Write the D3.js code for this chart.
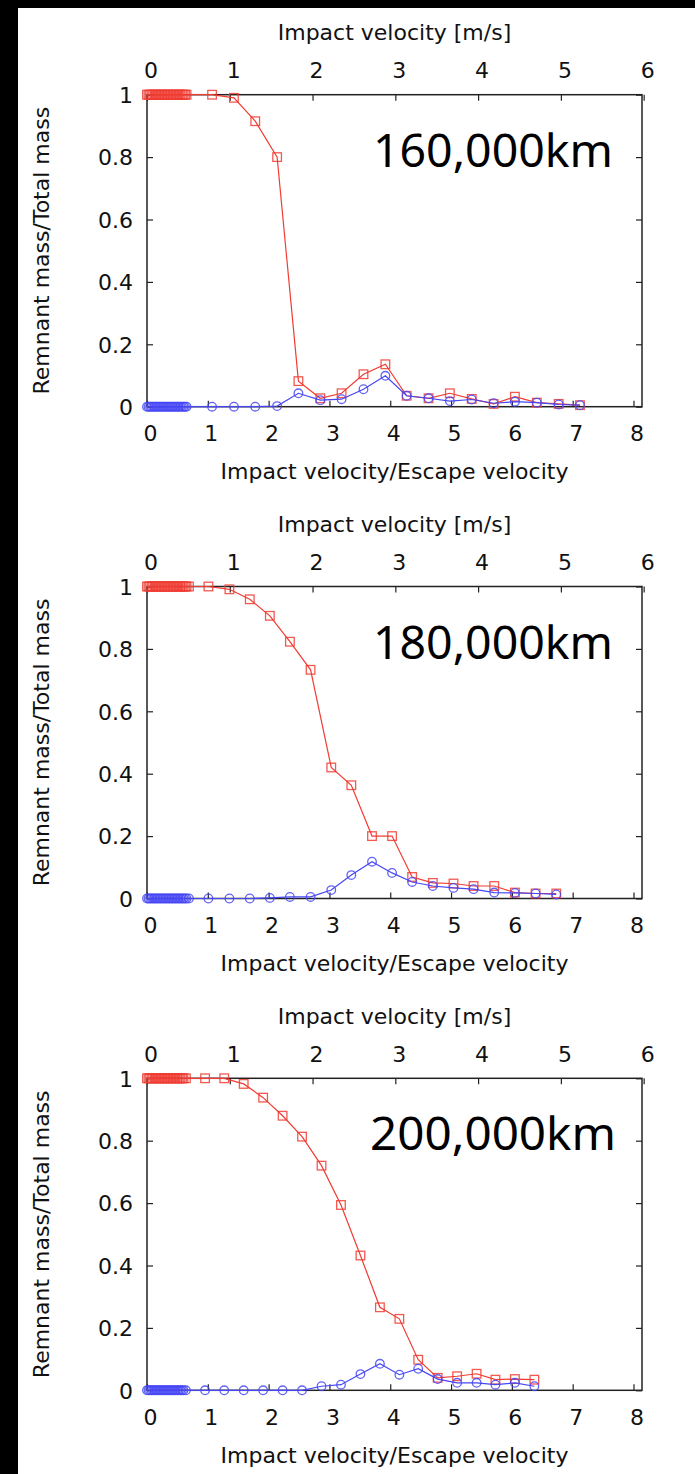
<!DOCTYPE html>
<html>
<head>
<meta charset="utf-8">
<title>Remnant mass vs impact velocity</title>
<script src="https://cdn.jsdelivr.net/npm/d3@7"></script>
<style>
  body { margin: 0; background: #fff; }
  svg { display: block; }
  .tick text, .lbl { font-family: "DejaVu Sans", sans-serif; font-size: 22px; fill: #111; }
  .dist { font-family: "Noto Sans", sans-serif; font-size: 45px; fill: #000; }
</style>
</head>
<body>
<svg id="chart" width="695" height="1474"></svg>
<script>
// tick labels
var xTicks = [0, 1, 2, 3, 4, 5, 6, 7, 8];
var x2Ticks = [0, 1, 2, 3, 4, 5, 6];
var yTicks = [0, 0.2, 0.4, 0.6, 0.8, 1];

// low speed runs (impact/escape velocity), all merge: red = 1, blue = 0
var lowX1 = [0, 0.025, 0.05, 0.075, 0.1, 0.125, 0.15, 0.175, 0.2, 0.225, 0.25, 0.275, 0.3, 0.325,
             0.35, 0.375, 0.4, 0.425, 0.45, 0.475, 0.5, 0.525, 0.55, 0.575, 0.6, 0.625, 0.65];
var lowX2 = [0, 0.025, 0.05, 0.075, 0.1, 0.125, 0.15, 0.175, 0.2, 0.225, 0.25, 0.275, 0.3, 0.325,
             0.35, 0.375, 0.4, 0.425, 0.45, 0.475, 0.5, 0.525, 0.55, 0.575, 0.6, 0.625, 0.65, 0.69];
var lowX3 = [0, 0.025, 0.05, 0.075, 0.1, 0.125, 0.15, 0.175, 0.2, 0.225, 0.25, 0.275, 0.3, 0.325,
             0.35, 0.375, 0.4, 0.425, 0.45, 0.475, 0.5, 0.525, 0.55, 0.575, 0.6, 0.64];

// 160,000km
var x1 = [1.07, 1.43, 1.78, 2.14, 2.49, 2.85, 3.2, 3.56, 3.92, 4.27, 4.63, 4.98, 5.34, 5.7, 6.05, 6.41, 6.77, 7.12];
var red1 = [1.0, 0.99, 0.915, 0.80, 0.082, 0.027, 0.043, 0.104, 0.136, 0.035, 0.027, 0.043, 0.025, 0.009, 0.032, 0.013, 0.009, 0.005];
var blue1 = [0, 0, 0, 0.002, 0.043, 0.021, 0.024, 0.056, 0.099, 0.035, 0.027, 0.018, 0.023, 0.011, 0.016, 0.013, 0.007, 0.005];

// 180,000km
var x2 = [1.01, 1.355, 1.69, 2.02, 2.35, 2.69, 3.03, 3.36, 3.70, 4.03, 4.36, 4.70, 5.04, 5.37, 5.71, 6.05, 6.39, 6.73];
var red2 = [1.0, 0.991, 0.959, 0.906, 0.823, 0.733, 0.42, 0.363, 0.20, 0.20, 0.069, 0.05, 0.048, 0.04, 0.04, 0.019, 0.016, 0.016];
var blue2 = [0, 0, 0, 0.002, 0.005, 0.005, 0.027, 0.075, 0.118, 0.082, 0.053, 0.04, 0.034, 0.03, 0.019, 0.018, 0.016, 0.013];

// 200,000km
var x3 = [0.955, 1.27, 1.59, 1.91, 2.23, 2.55, 2.87, 3.19, 3.51, 3.83, 4.15, 4.46, 4.78, 5.10, 5.42, 5.73, 6.05, 6.37];
var red3 = [1.0, 1.0, 0.982, 0.938, 0.88, 0.813, 0.72, 0.594, 0.432, 0.266, 0.229, 0.098, 0.04, 0.045, 0.053, 0.034, 0.036, 0.034];
var blue3 = [0, 0, 0, 0, 0, 0, 0.013, 0.018, 0.052, 0.085, 0.05, 0.069, 0.036, 0.024, 0.024, 0.018, 0.024, 0.013];

var labels = ["160,000km", "180,000km", "200,000km"];

var panels = [
  {label: labels[0], low: lowX1, x: x1, red: red1, blue: blue1},
  {label: labels[1], low: lowX2, x: x2, red: red2, blue: blue2},
  {label: labels[2], low: lowX3, x: x3, red: red3, blue: blue3}
];

var svg = d3.select("#chart");
svg.append("rect").attr("width", 695).attr("height", 1474).attr("fill", "#fff");
// black edges of the screenshot
svg.append("rect").attr("width", 18).attr("height", 1474).attr("fill", "#000");
svg.append("rect").attr("width", 695).attr("height", 8).attr("fill", "#000");

var left = 147, right = 642, plotH = 312, step = 491.8, top0 = 94.7;
var redC = "#f03c32", blueC = "#4646f5";

panels.forEach(function(p, i) {
  var top = top0 + i * step, bottom = top + plotH;
  var x = d3.scaleLinear().domain([0, 8.14]).range([left, right]);
  var xTop = d3.scaleLinear().domain([0, 5.98]).range([left, right]);
  var y = d3.scaleLinear().domain([0, 1]).range([bottom, top]);
  var g = svg.append("g");

  g.append("rect").attr("x", left).attr("y", top).attr("width", right - left).attr("height", plotH)
    .attr("fill", "none").attr("stroke", "#222").attr("stroke-width", 1.5);

  function clean(a) {
    a.select(".domain").remove();
    a.selectAll(".tick line").attr("stroke", "#222").attr("stroke-width", 1.2);
  }

  var xb = g.append("g").attr("transform", "translate(0," + bottom + ")")
    .call(d3.axisBottom(x).tickValues(xTicks).tickSizeInner(-6).tickSizeOuter(0).tickFormat(d3.format("d")))
    .call(clean);
  xb.selectAll("text").attr("y", 26.7).attr("dy", "0.35em").attr("dx", 3);

  var xt = g.append("g").attr("transform", "translate(0," + top + ")")
    .call(d3.axisTop(xTop).tickValues(x2Ticks).tickSizeInner(-6).tickSizeOuter(0).tickFormat(d3.format("d")))
    .call(clean);
  xt.selectAll("text").attr("y", -24).attr("dy", "0.35em").attr("dx", 3.5);

  var yl = g.append("g").attr("transform", "translate(" + left + ",0)")
    .call(d3.axisLeft(y).tickValues(yTicks).tickSizeInner(-6).tickSizeOuter(0).tickFormat(function(d) { return d; }))
    .call(clean);
  yl.selectAll("text").attr("x", -14).attr("dy", "0.35em");

  g.append("g").attr("transform", "translate(" + right + ",0)")
    .call(d3.axisRight(y).tickValues(yTicks).tickSizeInner(-6).tickSizeOuter(0).tickFormat(""))
    .call(clean);

  // axis titles
  g.append("text").attr("class", "lbl").attr("x", (left + right) / 2).attr("y", top - 62)
    .attr("text-anchor", "middle").attr("dominant-baseline", "central").text("Impact velocity [m/s]");
  g.append("text").attr("class", "lbl").attr("x", (left + right) / 2).attr("y", bottom + 65)
    .attr("text-anchor", "middle").attr("dominant-baseline", "central").text("Impact velocity/Escape velocity");
  g.append("text").attr("class", "lbl")
    .attr("transform", "translate(41.5," + (top + bottom) / 2 + ") rotate(-90)")
    .attr("text-anchor", "middle").attr("dominant-baseline", "central").text("Remnant mass/Total mass");

  // distance label
  g.append("text").attr("class", "dist").attr("x", i == 2 ? 370 : 373).attr("y", top + 72)
    .attr("textLength", i == 2 ? 246 : 240).attr("lengthAdjust", "spacingAndGlyphs").text(p.label);

  var redPts = p.low.map(function(v) { return [v, 1]; })
    .concat(p.x.map(function(v, j) { return [v, p.red[j]]; }));
  var bluePts = p.low.map(function(v) { return [v, 0]; })
    .concat(p.x.map(function(v, j) { return [v, p.blue[j]]; }));

  var line = d3.line().x(function(d) { return x(d[0]); }).y(function(d) { return y(d[1]); });

  g.append("path").datum(redPts).attr("d", line).attr("fill", "none")
    .attr("stroke", redC).attr("stroke-width", 1.2);
  g.selectAll("rect.sq").data(redPts).enter().append("rect").attr("class", "sq")
    .attr("x", function(d) { return x(d[0]) - 4.3; }).attr("y", function(d) { return y(d[1]) - 4.3; })
    .attr("width", 8.6).attr("height", 8.6)
    .attr("fill", "none").attr("stroke", redC).attr("stroke-width", 1.3).attr("opacity", 0.85);

  g.append("path").datum(bluePts).attr("d", line).attr("fill", "none")
    .attr("stroke", blueC).attr("stroke-width", 1.2);
  g.selectAll("circle.ci").data(bluePts).enter().append("circle").attr("class", "ci")
    .attr("cx", function(d) { return x(d[0]); }).attr("cy", function(d) { return y(d[1]); })
    .attr("r", 4.3)
    .attr("fill", "none").attr("stroke", blueC).attr("stroke-width", 1.3).attr("opacity", 0.85);
});
</script>
</body>
</html>
